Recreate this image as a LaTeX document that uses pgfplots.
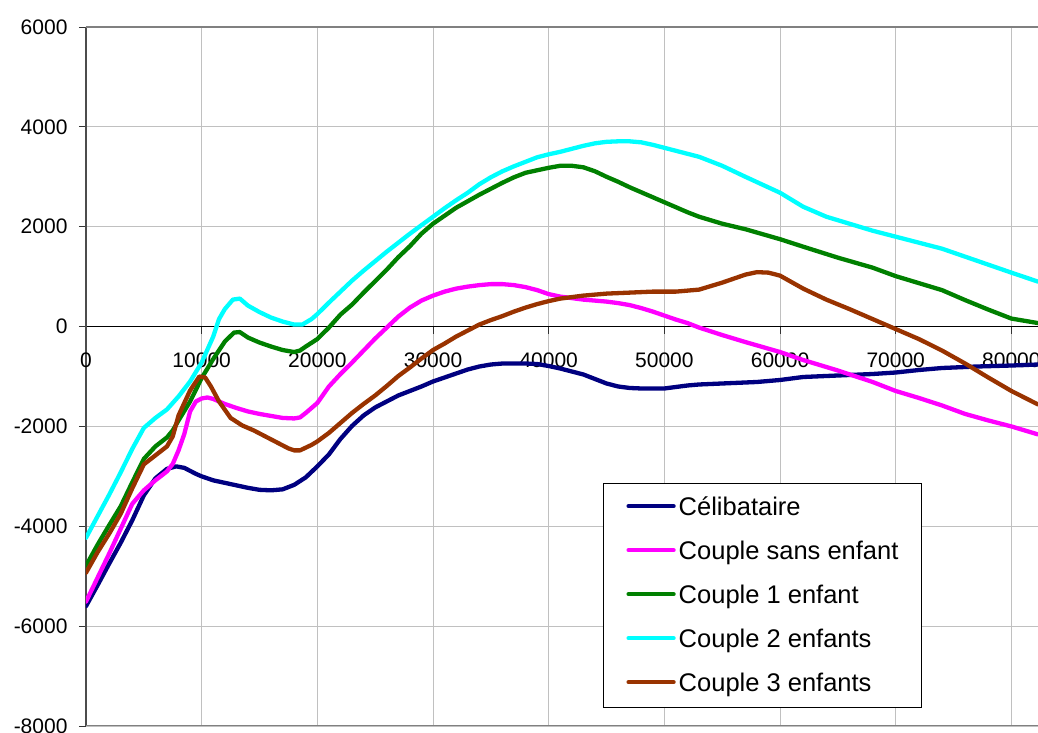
\documentclass[border=0pt]{standalone}
\usepackage{pgfplots}
\pgfplotsset{compat=1.18}
\usepackage{fontspec}
\setmainfont{Liberation Sans}
\definecolor{cNavy}{HTML}{000080}
\definecolor{cMag}{HTML}{FF00FF}
\definecolor{cGreen}{HTML}{008000}
\definecolor{cCyan}{HTML}{00FFFF}
\definecolor{cBrown}{HTML}{993300}
\definecolor{cGrid}{HTML}{C0C0C0}
\begin{document}
\begin{tikzpicture}
\useasboundingbox (-86pt,-7pt) rectangle (952pt,726pt);
\begin{axis}[
  at={(0pt,0pt)}, anchor=south west,
  scale only axis, width=952pt, height=699pt,
  xmin=0, xmax=82300, ymin=-8000, ymax=6000,
  axis x line=middle, axis y line=left,
  axis line style={-},
  x axis line style={draw=black, line width=1pt},
  y axis line style={draw=black!70, line width=1.3pt},
  xtick={0,10000,...,80000}, ytick={-8000,-6000,...,6000},
  hide obscured x ticks=false, hide obscured y ticks=false,
  grid=major, grid style={draw=cGrid, line width=0.9pt},
  tick align=outside, major tick length=7pt,
  tick style={draw=black!80, line width=0.9pt},
  scaled ticks=false,
  /pgf/number format/1000 sep={},
  /pgf/number format/assume math mode=true,
  tick label style={font=\fontsize{21}{25}\selectfont, black},
  xticklabel style={yshift=-16pt},
  yticklabel style={xshift=-8pt},
  clip=true,
  legend cell align=left,
  legend style={at={(0.543,0.348)}, anchor=north west, draw=black, line width=1pt, fill=white,
    font=\fontsize{25.5}{30}\selectfont, inner xsep=23pt, inner ysep=11pt,
    nodes={inner sep=0pt, text height=21.7pt, text depth=5pt},
    column sep=3pt, row sep=17.3pt},
  legend image code/.code={\draw[#1, line width=4.3pt] (0pt,1.5pt) -- (45pt,1.5pt);},
  every axis plot/.append style={line width=4.3pt, line join=round, line cap=round},
]
\draw[draw=gray, line width=1.5pt] (rel axis cs:0,1) -- (rel axis cs:1,1);
\draw[draw=gray, line width=1.5pt] (rel axis cs:0,0) -- (rel axis cs:1,0);

\addplot[cNavy] coordinates {
(0,-5600) (1000,-5180) (2000,-4750) (3000,-4330) (4000,-3880) (5000,-3380) (6000,-3040) (7000,-2850) (7800,-2800) (8500,-2830) (9500,-2950) (10000,-3000) (11000,-3080) (12000,-3130) (13000,-3180) (14000,-3230) (15000,-3270) (16000,-3280) (17000,-3260) (18000,-3170) (19000,-3020) (20000,-2800) (21000,-2560) (22000,-2250) (23000,-1990) (24000,-1780) (25000,-1620) (26000,-1500) (27000,-1380) (28000,-1290) (29000,-1200) (30000,-1100) (31000,-1020) (32000,-940) (33000,-860) (34000,-800) (35000,-760) (36000,-740) (37000,-740) (38000,-740) (39000,-750) (40000,-790) (41000,-840) (42000,-900) (43000,-960) (44000,-1050) (45000,-1140) (46000,-1200) (47000,-1230) (48000,-1240) (50000,-1240) (51000,-1210) (52000,-1180) (53000,-1160) (55000,-1140) (58000,-1110) (60000,-1070) (62000,-1010) (65000,-980) (68000,-950) (70000,-920) (72000,-870) (74000,-830) (77000,-800) (80000,-780) (82300,-760)
};
\addlegendentry{Célibataire}
\addplot[cMag] coordinates {
(0,-5510) (1000,-5030) (2000,-4550) (3000,-4050) (4000,-3550) (5000,-3280) (6000,-3080) (7000,-2900) (7500,-2750) (8000,-2480) (8500,-2150) (9000,-1700) (9500,-1500) (10000,-1440) (10500,-1420) (11000,-1450) (12000,-1550) (13000,-1630) (14000,-1700) (15000,-1750) (16000,-1790) (17000,-1830) (18000,-1840) (18500,-1820) (19000,-1730) (20000,-1530) (21000,-1200) (22000,-950) (23000,-720) (24000,-480) (25000,-240) (26000,-20) (27000,200) (28000,380) (29000,520) (30000,620) (31000,700) (32000,760) (33000,800) (34000,830) (35000,850) (36000,850) (37000,830) (38000,790) (39000,730) (40000,650) (41000,600) (42000,570) (43000,540) (44000,520) (45000,500) (46000,470) (47000,430) (48000,370) (49000,300) (50000,220) (51000,140) (52000,70) (53000,-20) (55000,-170) (57000,-310) (60000,-510) (62000,-670) (65000,-880) (68000,-1110) (70000,-1290) (72000,-1430) (74000,-1580) (76000,-1750) (78000,-1880) (80000,-2000) (82300,-2160)
};
\addlegendentry{Couple sans enfant}
\addplot[cGreen] coordinates {
(0,-4790) (1000,-4370) (2000,-3980) (3000,-3600) (4000,-3120) (5000,-2650) (6000,-2400) (7000,-2220) (7500,-2080) (8000,-1880) (9000,-1500) (10000,-1030) (11000,-650) (12000,-300) (12800,-120) (13300,-110) (14000,-220) (15000,-320) (16000,-400) (17000,-470) (18000,-510) (18500,-480) (19000,-400) (20000,-250) (21000,-20) (22000,240) (23000,440) (24000,680) (25000,910) (26000,1140) (27000,1390) (28000,1610) (29000,1860) (30000,2060) (31000,2220) (32000,2380) (33000,2510) (34000,2640) (35000,2760) (36000,2880) (37000,2990) (38000,3080) (39000,3130) (40000,3180) (41000,3220) (42000,3220) (43000,3190) (44000,3110) (45000,3000) (46000,2900) (47000,2790) (48000,2690) (50000,2490) (52000,2290) (53000,2200) (55000,2060) (57000,1950) (60000,1750) (62000,1600) (65000,1380) (68000,1180) (70000,1010) (72000,870) (74000,730) (76000,530) (78000,340) (80000,160) (82300,70)
};
\addlegendentry{Couple 1 enfant}
\addplot[cCyan] coordinates {
(0,-4230) (1000,-3800) (2000,-3370) (3000,-2920) (4000,-2450) (5000,-2030) (6000,-1830) (7000,-1660) (8000,-1400) (9000,-1100) (10000,-720) (11000,-200) (11500,150) (12000,350) (12700,540) (13300,560) (14000,420) (15000,290) (16000,180) (17000,100) (18000,40) (18700,40) (19500,150) (20000,250) (21000,480) (22000,700) (23000,920) (24000,1120) (25000,1310) (26000,1500) (27000,1680) (28000,1860) (29000,2030) (30000,2200) (31000,2370) (32000,2530) (33000,2680) (34000,2850) (35000,2990) (36000,3110) (37000,3210) (38000,3300) (39000,3390) (40000,3450) (41000,3500) (42000,3560) (43000,3620) (44000,3670) (45000,3700) (46000,3710) (47000,3710) (48000,3690) (49000,3640) (50000,3580) (51000,3520) (52000,3460) (53000,3400) (55000,3220) (57000,3000) (60000,2680) (62000,2400) (64000,2200) (66000,2060) (68000,1920) (70000,1800) (72000,1680) (74000,1560) (76000,1400) (78000,1240) (80000,1080) (82300,900)
};
\addlegendentry{Couple 2 enfants}
\addplot[cBrown] coordinates {
(0,-4930) (1000,-4520) (2000,-4150) (3000,-3750) (4000,-3240) (5000,-2760) (6000,-2580) (7000,-2400) (7500,-2200) (8000,-1780) (9000,-1280) (9800,-1000) (10300,-1020) (10800,-1200) (11500,-1500) (12500,-1830) (13500,-1980) (14500,-2080) (15500,-2200) (16500,-2320) (17500,-2440) (18000,-2480) (18500,-2480) (19500,-2370) (20000,-2300) (21000,-2130) (22000,-1930) (23000,-1730) (24000,-1550) (25000,-1380) (26000,-1190) (27000,-990) (28000,-820) (29000,-640) (30000,-470) (31000,-340) (32000,-200) (33000,-80) (34000,40) (35000,130) (36000,210) (37000,300) (38000,380) (39000,450) (40000,510) (41000,560) (42000,590) (43000,620) (44000,640) (45000,660) (47000,680) (49000,700) (51000,700) (53000,740) (55000,880) (57000,1040) (58000,1090) (59000,1080) (60000,1020) (62000,760) (64000,540) (66000,350) (68000,150) (70000,-50) (72000,-250) (74000,-480) (76000,-740) (78000,-1020) (80000,-1290) (82300,-1560)
};
\addlegendentry{Couple 3 enfants}
\end{axis}
\end{tikzpicture}
\end{document}
